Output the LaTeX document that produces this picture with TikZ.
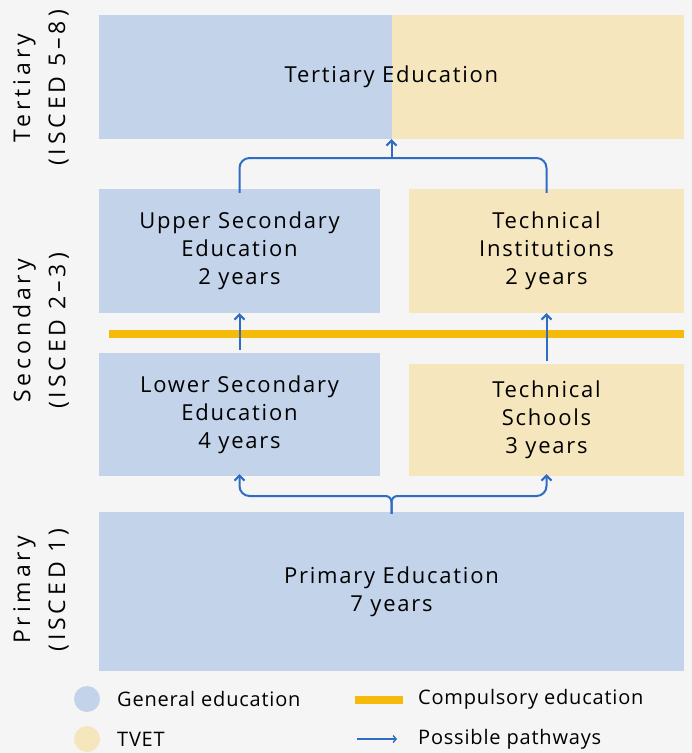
\documentclass[tikz,border=0pt]{standalone}
\usepackage{fontspec}
\setmainfont{Open Sans}
\usetikzlibrary{arrows.meta}
\definecolor{genColor}{HTML}{C3D3EA}
\definecolor{tvetColor}{HTML}{F5E6BD}
\definecolor{bgColor}{HTML}{F5F5F5}
\definecolor{compColor}{HTML}{F5BA0A}
\definecolor{pathColor}{HTML}{2F6CC4}
\newcommand{\levelLabel}[3]{%%
  \node[levelStyle] (#1) at (41,#2) {#3};
}
\newcommand{\legendItem}[4]{%%
  \node[legendTextStyle] (#1) at (#2,#3) {#4};
}

\begin{document}
\begin{tikzpicture}[%%
  x=1pt,y=-1pt,
  boxStyle/.style={inner sep=0pt,align=center,
    font=\fontsize{22}{28}\selectfont\addfontfeatures{LetterSpace=8}},%%
  genStyle/.style={boxStyle,fill=genColor},%%
  tvetStyle/.style={boxStyle,fill=tvetColor},%%
  levelStyle/.style={rotate=90,align=center,
    font=\fontsize{23}{35}\selectfont\addfontfeatures{LetterSpace=17}},%%
  legendTextStyle/.style={anchor=west,inner sep=0pt,
    font=\fontsize{20}{24}\selectfont\addfontfeatures{LetterSpace=4}},%%
  dotStyle/.style={circle,inner sep=0pt,minimum size=26pt},%%
  pathStyle/.style={-{Straight Barb[length=5pt,width=10pt]},pathColor,
    line width=2pt,rounded corners=10pt},%%
  compStyle/.style={compColor,line width=8pt}
]
%%
%% Canvas.
\useasboundingbox[fill=bgColor] (0,0) rectangle (692,753);
%%
%% Education levels.
\node[genStyle,minimum width=585pt,minimum height=124pt,
  path picture={\fill[tvetColor] (path picture bounding box.north)
    rectangle (path picture bounding box.south east);}]
  (tert) at (391.5,77) {Tertiary Education};
\node[genStyle,minimum width=281pt,minimum height=124pt]
  (upper) at (239.5,251) {Upper Secondary\\Education\\2 years};
\node[tvetStyle,minimum width=275pt,minimum height=124pt]
  (inst) at (546.5,251) {Technical\\Institutions\\2 years};
\node[genStyle,minimum width=281pt,minimum height=123pt]
  (lower) at (239.5,414.5) {Lower Secondary\\Education\\4 years};
\node[tvetStyle,minimum width=275pt,minimum height=112pt]
  (school) at (546.5,420) {Technical\\Schools\\3 years};
\node[genStyle,minimum width=585pt,minimum height=159pt]
  (prim) at (391.5,591.5) {Primary Education\\7 years};
%%
%% Compulsory education ends here.
\coordinate (compL) at (109,334);
\coordinate (compR) at (684,334);
\draw[compStyle] (compL) -- (compR);
%%
%% Pathways.
\coordinate (topMerge) at (391.5,158);
\coordinate (botSplit) at (391.5,496);
\draw[pathStyle,-] ([yshift=-4pt]upper.north) |- (topMerge) -| ([yshift=-4pt]inst.north);
\draw[pathStyle] (topMerge) -- (tert.south);
\draw[pathStyle] ([yshift=3pt]lower.north) -- (upper.south);
\draw[pathStyle] ([yshift=3pt]school.north) -- (inst.south);
\draw[pathStyle,rounded corners=6pt] ([yshift=-2pt]prim.north) -- (botSplit)
  [rounded corners=10pt] -| ([yshift=2pt]lower.south);
\draw[pathStyle,rounded corners=6pt] ([yshift=-2pt]prim.north) -- (botSplit)
  [rounded corners=10pt] -| ([yshift=2pt]school.south);
%%
%% Level labels.
\levelLabel{tertLbl}{88}{Tertiary\\(ISCED 5–8)}
\levelLabel{secLbl}{331}{Secondary\\(ISCED 2–3)}
\levelLabel{primLbl}{590}{Primary\\(ISCED 1)}
%%
%% Legend.
\node[dotStyle,fill=genColor] (genDot) at (87,699) {};
\node[dotStyle,fill=tvetColor] (tvetDot) at (87,739) {};
\legendItem{genTxt}{117}{699}{General education}
\legendItem{tvetTxt}{117}{739}{TVET}
\coordinate (compKeyL) at (355,700);
\coordinate (compKeyR) at (403,700);
\draw[compStyle] (compKeyL) -- (compKeyR);
\coordinate (pathKeyL) at (357,739);
\coordinate (pathKeyR) at (397,739);
\draw[-{Straight Barb[length=3pt,width=7pt]},pathColor,line width=1.4pt]
  (pathKeyL) -- (pathKeyR);
\legendItem{compTxt}{418}{699}{Compulsory education}
\legendItem{pathTxt}{418}{739}{Possible pathways}
\end{tikzpicture}
\end{document}
